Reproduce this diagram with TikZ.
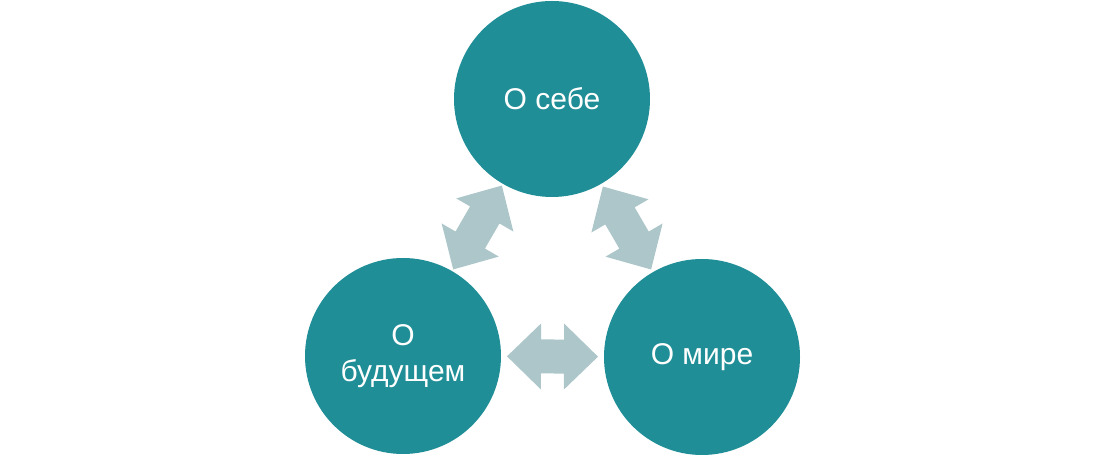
\documentclass[tikz,border=0pt]{standalone}
\usepackage{fontspec}
\setmainfont{Liberation Sans}
\usepackage{xcolor}
\usetikzlibrary{calc}

\definecolor{tealc}{HTML}{1F8E96}
\definecolor{arrowc}{HTML}{ACC6C9}

\tikzset{
  topic/.style={circle, fill=tealc, draw=none, minimum size=196pt, inner sep=0pt,
    text=white, align=center, font=\fontsize{30}{36}\selectfont},
  dblarrow/.pic={
    \fill[arrowc] (-#1/2,0) -- (-#1/2+34,33) -- (-#1/2+34,17) -- (#1/2-34,17)
      -- (#1/2-34,33) -- (#1/2,0) -- (#1/2-34,-33) -- (#1/2-34,-17)
      -- (-#1/2+34,-17) -- (-#1/2+34,-33) -- cycle;
  }
}

\begin{document}
\begin{tikzpicture}[x=1pt, y=1pt]
\useasboundingbox (0,0) rectangle (1104,457);

\node[topic] (self) at (552,358) {О себе};
\node[topic] (future) at (403,101) {О\\будущем};
\node[topic] (world) at (702,100) {О мире};

% arrows between the topics
\path let \p1=($(self)-(future)$), \n1={atan2(\y1,\x1)} in
  ($(future)!0.5!(self)$) pic[rotate=\n1] {dblarrow=97};
\path let \p1=($(world)-(self)$), \n1={atan2(\y1,\x1)} in
  ($(self)!0.5!(world)$) pic[rotate=\n1] {dblarrow=96};
\path let \p1=($(world)-(future)$), \n1={atan2(\y1,\x1)} in
  ($(future)!0.5!(world)$) pic[rotate=\n1] {dblarrow=91};
\end{tikzpicture}
\end{document}
